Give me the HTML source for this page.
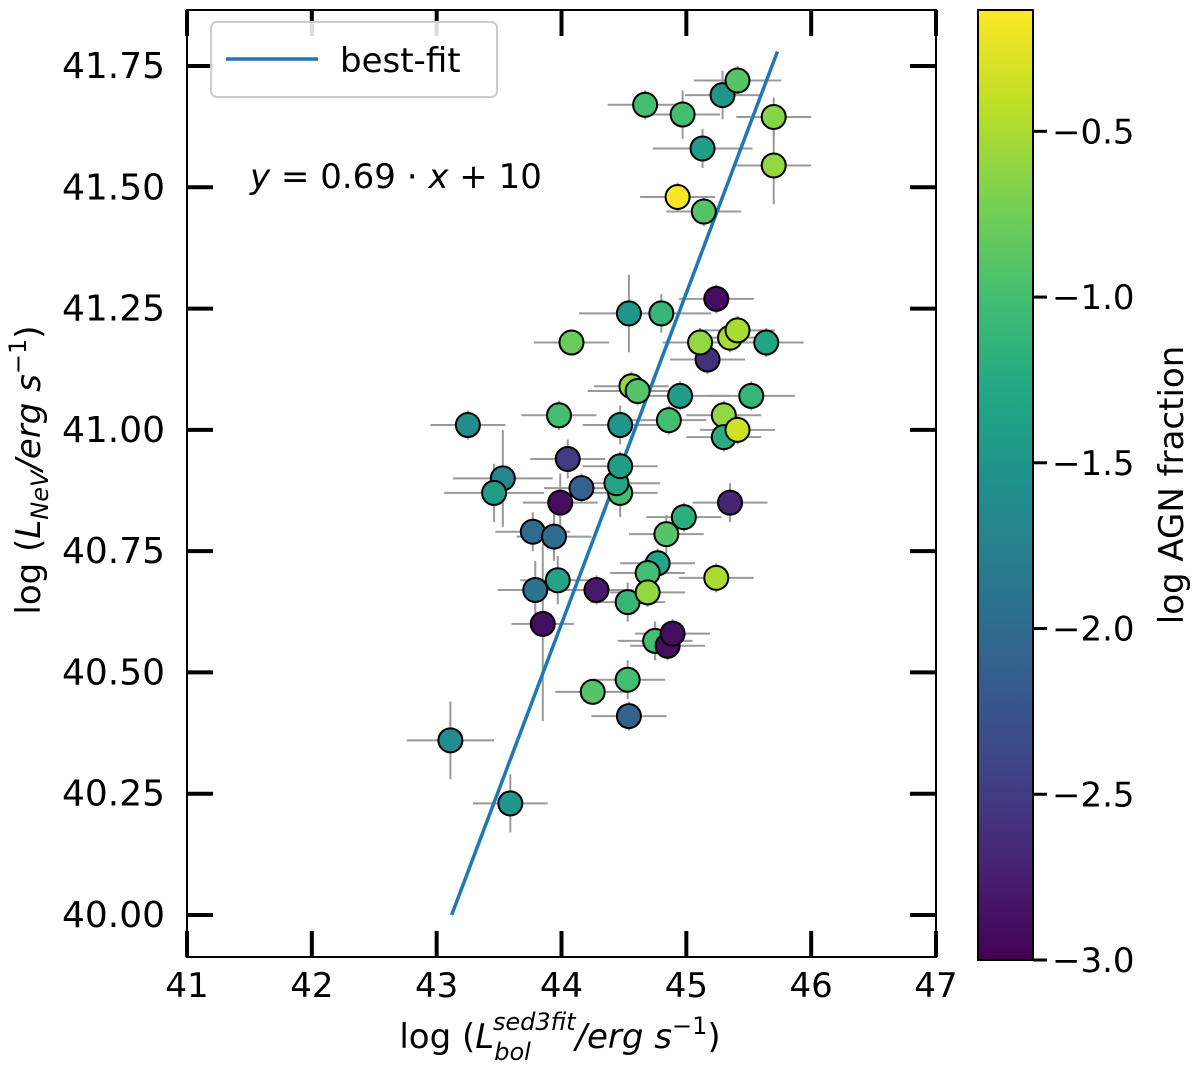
<!DOCTYPE html>
<html><head><meta charset="utf-8">
<style>
html,body{margin:0;padding:0;background:#fff;}
svg{display:block;font-family:"DejaVu Sans","Liberation Sans",sans-serif;}
</style></head>
<body>
<svg id="chart" width="1200" height="1073" viewBox="0 0 1200 1073"></svg>
<script>
const xTicks=[41,42,43,44,45,46,47];
const yTicks=[40.00,40.25,40.50,40.75,41.00,41.25,41.50,41.75];
const cTicks=[-0.5,-1.0,-1.5,-2.0,-2.5,-3.0];
const xs=[43.11,43.59,43.25,43.53,43.46,43.77,43.94,43.79,43.97,43.85,43.99,44.05,44.16,43.98,44.08,44.28,44.25,44.54,44.53,44.53,44.47,44.44,44.47,44.47,44.54,44.56,44.61,44.80,44.67,44.97,44.93,45.13,45.14,45.29,45.41,45.70,45.70,45.24,45.17,45.11,45.35,45.41,45.64,44.95,45.52,44.86,45.30,45.30,45.41,45.35,44.98,44.84,44.77,44.69,44.69,45.24,44.75,44.85,44.89];
const ys=[40.36,40.23,41.01,40.90,40.87,40.79,40.78,40.67,40.69,40.60,40.85,40.94,40.88,41.03,41.18,40.67,40.46,40.41,40.485,40.645,40.87,40.89,40.925,41.01,41.24,41.09,41.08,41.24,41.67,41.65,41.48,41.58,41.45,41.69,41.72,41.645,41.545,41.27,41.145,41.18,41.19,41.205,41.18,41.07,41.07,41.02,41.03,40.985,41.00,40.85,40.82,40.785,40.725,40.705,40.665,40.695,40.565,40.555,40.58];
const cs=[-1.6,-1.5,-1.6,-1.7,-1.4,-2.0,-2.0,-1.9,-1.3,-2.9,-2.9,-2.5,-2.1,-1.0,-0.8,-2.8,-0.9,-2.1,-1.0,-1.1,-1.0,-1.3,-1.4,-1.5,-1.5,-0.6,-0.9,-1.1,-1.0,-1.0,-0.15,-1.4,-0.9,-1.5,-0.9,-0.65,-0.6,-2.9,-2.6,-0.6,-0.5,-0.5,-1.3,-1.4,-1.1,-1.0,-0.6,-1.2,-0.35,-2.7,-1.2,-0.9,-1.3,-1.0,-0.6,-0.5,-1.0,-2.9,-2.9];
const xerr=[0.35,0.3,0.3,0.4,0.4,0.3,0.3,0.3,0.3,0.25,0.3,0.3,0.3,0.3,0.3,0.3,0.3,0.3,0.3,0.3,0.3,0.35,0.3,0.3,0.4,0.3,0.4,0.4,0.3,0.3,0.3,0.4,0.3,0.3,0.35,0.3,0.3,0.3,0.3,0.3,0.3,0.3,0.3,0.4,0.35,0.3,0.3,0.3,0.3,0.3,0.3,0.3,0.3,0.3,0.3,0.3,0.3,0.3,0.3];
const yerr=[0.08,0.06,0.03,0.1,0.06,0.04,0.05,0.06,0.05,0.2,0.06,0.04,0.03,0.03,0.02,0.03,0.02,0.03,0.04,0.04,0.05,0.03,0.03,0.04,0.08,0.03,0.03,0.04,0.03,0.05,0.03,0.04,0.03,0.05,0.03,0.04,0.08,0.03,0.03,0.03,0.03,0.03,0.03,0.03,0.03,0.03,0.03,0.03,0.03,0.04,0.03,0.04,0.03,0.03,0.03,0.03,0.04,0.03,0.03];
const fitX=[43.12,45.73];
const fitY=[40.0,41.78];

const NS="http://www.w3.org/2000/svg";
const svg=document.getElementById('chart');
const L=187,R=936,T=10,B=957;
function sx(v){return L+(v-41)*(R-L)/6;}
function sy(v){return 915-(v-40)*(915-66)/1.75;}
const cbT=10,cbB=960,cbL=978,cbR=1033,cMin=-3.0,cMax=-0.134;
function sc(v){return cbB-(v-cMin)*(cbB-cbT)/(cMax-cMin);}
const vir=[[68,1,84],[72,35,116],[64,67,135],[52,94,141],[41,120,142],[32,144,140],[34,167,132],[68,190,112],[121,209,81],[189,223,38],[253,231,37]];
function viridis(t){t=Math.max(0,Math.min(1,t));const p=t*(vir.length-1);const i=Math.min(Math.floor(p),vir.length-2);const f=p-i;const a=vir[i],b=vir[i+1];return `rgb(${Math.round(a[0]+(b[0]-a[0])*f)},${Math.round(a[1]+(b[1]-a[1])*f)},${Math.round(a[2]+(b[2]-a[2])*f)})`;}
function mk(tag,attrs,parent){const e=document.createElementNS(NS,tag);for(const k in attrs)e.setAttribute(k,attrs[k]);(parent||svg).appendChild(e);return e;}

const eg=mk('g',{});


for(let i=0;i<xs.length;i++){
  const l1=mk('line',{x1:sx(xs[i]-xerr[i]),x2:sx(xs[i]+xerr[i]),y1:sy(ys[i]),y2:sy(ys[i]),stroke:'#999','stroke-width':2},eg);
  
  
  const l2=mk('line',{x1:sx(xs[i]),x2:sx(xs[i]),y1:sy(ys[i]-yerr[i]),y2:sy(ys[i]+yerr[i]),stroke:'#999','stroke-width':2},eg);
  
  
}
const fl=mk('line',{x1:sx(fitX[0]),y1:sy(fitY[0]),x2:sx(fitX[1]),y2:sy(fitY[1]),stroke:'#1f77b4','stroke-width':3.5});


const pg=mk('g',{});


for(let i=0;i<xs.length;i++){
  const c=mk('circle',{cx:sx(xs[i]),cy:sy(ys[i]),r:12,fill:viridis((cs[i]-cMin)/(cMax-cMin)),stroke:'#000','stroke-width':2},pg);
  
  
}
const fr=mk('rect',{x:L,y:T,width:R-L,height:B-T,fill:'none',stroke:'#000','stroke-width':2});


xTicks.forEach(v=>{
  const x=sx(v);
  const t1=mk('line',{x1:x,x2:x,y1:B,y2:B-26,stroke:'#000','stroke-width':4});
  
  
  const t2=mk('line',{x1:x,x2:x,y1:T,y2:T+26,stroke:'#000','stroke-width':4});
  
  
  const tx=mk('text',{x:x,y:997,'text-anchor':'middle','font-size':34});
  tx.textContent=String(v);
  
  
});
yTicks.forEach(v=>{
  const y=sy(v);
  const t1=mk('line',{x1:L,x2:L+26,y1:y,y2:y,stroke:'#000','stroke-width':4});
  
  
  const t2=mk('line',{x1:R,x2:R-26,y1:y,y2:y,stroke:'#000','stroke-width':4});
  
  
  const tx=mk('text',{x:165,y:y+12,'text-anchor':'end','font-size':36});
  tx.textContent=v.toFixed(2);
  
  
});
const defs=mk('defs',{});
const grad=mk('linearGradient',{id:'vg',x1:0,y1:1,x2:0,y2:0},defs);
for(let k=0;k<=20;k++){mk('stop',{offset:k/20,'stop-color':viridis(k/20)},grad);}
const cb=mk('rect',{x:cbL,y:cbT,width:cbR-cbL,height:cbB-cbT,fill:'url(#vg)',stroke:'#000','stroke-width':2});


cTicks.forEach(v=>{
  const y=sc(v);
  const t=mk('line',{x1:cbR,x2:cbR+14,y1:y,y2:y,stroke:'#000','stroke-width':3});
  
  
  const tx=mk('text',{x:1052,y:y+12,'font-size':34});
  tx.textContent=(v<0?'\u2212':'')+Math.abs(v).toFixed(1);
  
  
});
</script>
<svg style="position:absolute;left:0;top:0" width="1200" height="1073">
  <g font-family="DejaVu Sans, Liberation Sans, sans-serif">
    <rect x="211" y="22" width="286" height="75" rx="6" fill="#fff" fill-opacity="0.85" stroke="#ccc" stroke-width="2"/>
    <line x1="226" y1="59" x2="318" y2="59" stroke="#1f77b4" stroke-width="3.5"/>
    <text x="340" y="72" font-size="34">best-fit</text>
    <text x="250" y="188" font-size="34"><tspan font-style="italic">y</tspan> = 0.69 · <tspan font-style="italic">x</tspan> + 10</text>
    <text x="560" y="1048" font-size="34" text-anchor="middle">log (<tspan font-style="italic">L</tspan><tspan font-style="italic" font-size="24" dy="12">bol</tspan><tspan font-style="italic" font-size="24" dx="-38" dy="-30">sed3fit</tspan><tspan font-style="italic" dy="18">/erg s</tspan><tspan font-size="24" dy="-14">−1</tspan><tspan dy="14">)</tspan></text>
    <text transform="translate(40,470) rotate(-90)" font-size="34" text-anchor="middle">log (<tspan font-style="italic">L</tspan><tspan font-style="italic" font-size="24" dy="8">NeV</tspan><tspan font-style="italic" dy="-8">/erg s</tspan><tspan font-size="24" dy="-14">−1</tspan><tspan dy="14">)</tspan></text>
    <text transform="translate(1183,485) rotate(-90)" font-size="34" text-anchor="middle">log AGN fraction</text>
  </g>
</svg>
</body></html>
